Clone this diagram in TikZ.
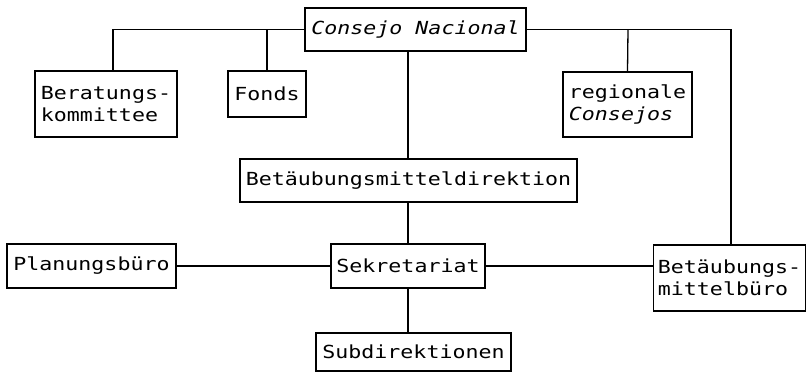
\documentclass[tikz,border=0pt]{standalone}
\usepackage{fontspec}
\newfontfamily\orgfont[FakeStretch=1.2]{DejaVu Sans Mono}
\tikzset{
  orgbox/.style={draw, line width=1.3pt, rectangle, inner sep=0pt, align=left,
    font=\orgfont\fontsize{18}{21.5}\selectfont},
  link/.style={line width=1.3pt}
}
\begin{document}
\begin{tikzpicture}[x=1pt,y=-1pt]
\useasboundingbox (0,0) rectangle (808,374);

% boxes
\node[orgbox, minimum width=221pt, minimum height=43pt] (cn)   at (415.5,29.5) {\itshape Consejo Nacional};
\node[orgbox, minimum width=142pt, minimum height=66pt] (bk)   at (106,104)    {Beratungs-\\kommittee};
\node[orgbox, minimum width=78pt,  minimum height=46pt] (fo)   at (267,94)     {Fonds};
\node[orgbox, minimum width=129pt, minimum height=65pt] (rc)   at (627.5,104.5){regionale\\\itshape Consejos};
\node[orgbox, minimum width=337pt, minimum height=43pt] (bd)   at (408.5,180.5){Betäubungsmitteldirektion};
\node[orgbox, minimum width=154pt, minimum height=44pt] (sk)   at (408,266)    {Sekretariat};
\node[orgbox, minimum width=169pt, minimum height=44pt] (pb)   at (91.5,266)   {Planungsbüro};
\node[orgbox, minimum width=152pt, minimum height=66pt] (bm)   at (729.5,278)  {Betäubungs-\\mittelbüro};
\node[orgbox, minimum width=195pt, minimum height=38pt] (sd)   at (413.5,352)  {Subdirektionen};

% junction points on the top bus
\coordinate (lbk) at (113,29.5);
\coordinate (lfo) at (267,29.5);
\coordinate (lrc) at (628,29.5);
\coordinate (lbm) at (731,29.5);
\coordinate (cnd) at (408,29.5);

% connectors
\draw[link] (cn.west) -- (lbk) -- (lbk |- bk.north);
\draw[link] (lfo) -- (fo.north);
\draw[link] (cn.east) -- (lbm) -- (lbm |- bm.north);
\draw[link] (lrc) -- (rc.north);
\draw[link] (cnd |- cn.south) -- (cnd |- bd.north);
\draw[link] (cnd |- bd.south) -- (cnd |- sk.north);
\draw[link] (cnd |- sk.south) -- (cnd |- sd.north);
\draw[link] (pb.east) -- (sk.west);
\draw[link] (sk.east) -- (sk.east -| bm.west);
\end{tikzpicture}
\end{document}
